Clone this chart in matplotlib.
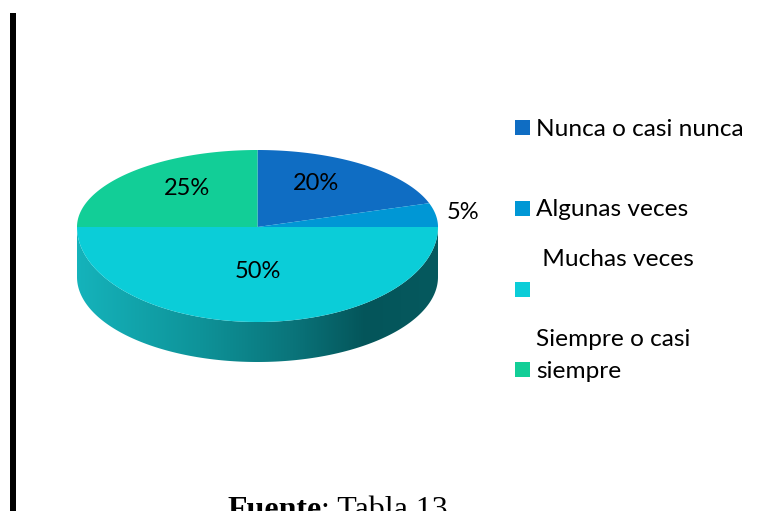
import matplotlib.pyplot as plt
import numpy as np
from matplotlib.patches import Polygon, Rectangle
from matplotlib.colors import LinearSegmentedColormap

# data
categories = ['Nunca o casi nunca', 'Algunas veces', 'Muchas veces', 'Siempre o casi siempre']
legend_labels = ['Nunca o casi nunca', 'Algunas veces', ' Muchas veces\n', 'Siempre o casi\nsiempre']
values = [20, 5, 50, 25]
pct_labels = ['20%', '5%', '50%', '25%']
colors = ['#0F6DC3', '#0097D5', '#0BCDD8', '#12CE97']

W, H = 759, 511
fig = plt.figure(figsize=(W / 100, H / 100), dpi=100)
ax = fig.add_axes([0, 0, 1, 1])
ax.set_xlim(0, W)
ax.set_ylim(H, 0)
ax.axis('off')

# pie geometry (pixels), perspective: back half flatter than front half
cx, cy = 257.5, 227
rx, ry_back, ry_front = 180.5, 77, 95
cy_bot, ry_bot = 277, 85


def rim(theta, yc, ry_b, ry_f):
    s = np.sin(theta)
    ry = np.where(s > 0, ry_b, ry_f)
    return cx + rx * np.cos(theta), yc - ry * s


# side wall with horizontal gradient
t = np.linspace(np.pi, 2 * np.pi, 200)
xt, yt = rim(t, cy, ry_back, ry_front)
xb, yb = rim(t[::-1], cy_bot, ry_bot, ry_bot)
side = Polygon(np.column_stack([np.r_[xt, xb], np.r_[yt, yb]]), closed=True,
               facecolor='none', edgecolor='none')
ax.add_patch(side)
side_cmap = LinearSegmentedColormap.from_list(
    'side', [(0.0, '#15B3BB'), (0.34, '#0E9399'), (0.60, '#0A747A'),
             (0.80, '#04555A'), (1.0, '#06595E')])
grad = np.linspace(0, 1, 256).reshape(1, -1)
im = ax.imshow(grad, cmap=side_cmap, aspect='auto',
               extent=[cx - rx, cx + rx, cy_bot + ry_bot + 1, cy - 1])
im.set_clip_path(side)
ax.set_xlim(0, W)
ax.set_ylim(H, 0)

# top face wedges, clockwise from 12 o'clock
total = sum(values)
start = 90.0
x_fac = [0.55, 1.15, 0.0, 0.55]
y_fac = [0.70, 1.20, 0.47, 0.70]
for i, v in enumerate(values):
    a1 = start
    a2 = start - 360.0 * v / total
    th = np.radians(np.linspace(a1, a2, 120))
    px, py = rim(th, cy, ry_back, ry_front)
    ax.add_patch(Polygon(np.column_stack([np.r_[cx, px], np.r_[cy, py]]),
                         closed=True, facecolor=colors[i], edgecolor='none'))
    mid = np.radians((a1 + a2) / 2)
    s = np.sin(mid)
    ry = ry_back if s > 0 else ry_front
    lx = cx + rx * x_fac[i] * np.cos(mid)
    ly = cy - ry * y_fac[i] * s
    ax.text(lx, ly, pct_labels[i], ha='center', va='center',
            fontsize=17, family='Lato', color='black')
    start = a2

# legend (Excel-style wrapped text)
leg_y = [128, 209, 290, 370]
line_h = 31
for i, lab in enumerate(legend_labels):
    ax.add_patch(Rectangle((515, leg_y[i] - 7.5), 15, 15, facecolor=colors[i],
                           edgecolor='none'))
    lines = lab.split('\n')
    for j, line in enumerate(reversed(lines)):
        ax.text(536, leg_y[i] + 1 - j * line_h, line, ha='left', va='center',
                fontsize=17.6, family='Lato', color='black')

# left page rule
ax.add_patch(Rectangle((10, 13), 6, H, facecolor='black', edgecolor='none'))

# cut text of the page around the chart
ax.text(68, -7, ',', ha='left', va='baseline', fontsize=23,
        family='Liberation Serif', color='#999999')
ax.text(223, -7, 'p', ha='left', va='baseline', fontsize=23,
        family='Liberation Serif', color='black')

t1 = ax.text(227, 518, 'Fuente', ha='left', va='baseline', fontsize=23,
             family='Liberation Serif', weight='bold', color='black')
fig.canvas.draw()
bb = t1.get_window_extent()
ax.text(227 + bb.width, 518, ': Tabla 13', ha='left', va='baseline',
        fontsize=23, family='Liberation Serif', color='black')

fig.savefig('out.png', dpi=100)
